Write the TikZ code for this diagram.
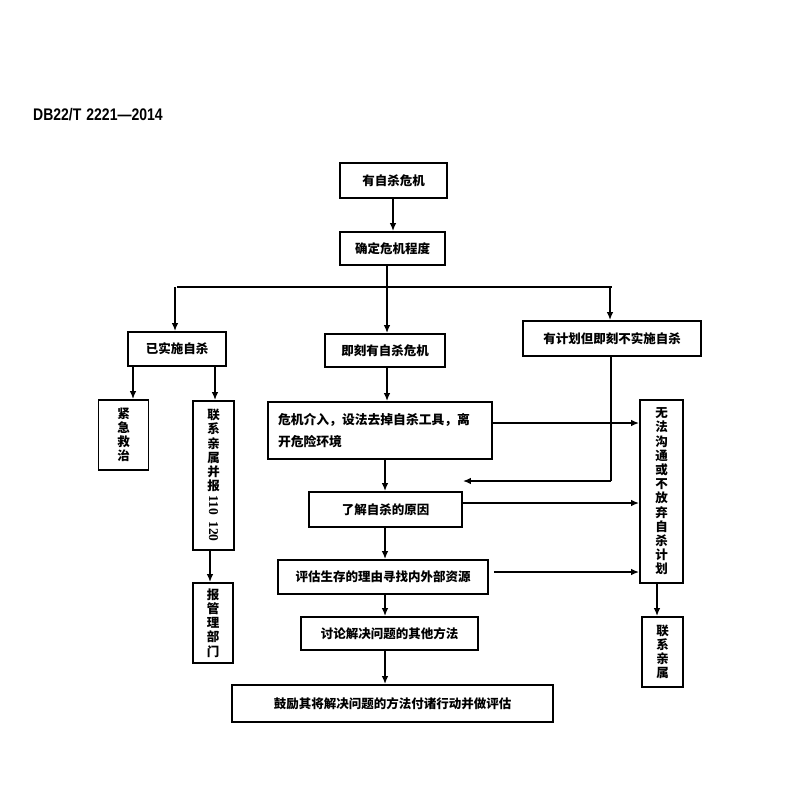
\documentclass[tikz,border=0pt]{standalone}
\usepackage{fontspec}
\usepackage{graphicx}
\newfontfamily\cjk{Noto Sans CJK SC}
\newfontfamily\hdrfont{Liberation Sans}
\newfontfamily\numfont{Liberation Serif}
\usetikzlibrary{arrows.meta,calc}
\begin{document}
\begin{tikzpicture}[x=1pt,y=-1pt,
  box/.style={draw,line width=1.7pt,inner sep=0pt,align=center,
    font=\cjk\bfseries\fontsize{12.5}{14.2}\selectfont},
  arr/.style={line width=1.7pt,-{Latex[length=8pt,width=6.5pt]}},
  ln/.style={line width=1.7pt}]
\useasboundingbox (0,0) rectangle (799,800);
\fill[white] (0,0) rectangle (799,800);
\node[anchor=west,inner sep=0pt,font=\hdrfont\bfseries\fontsize{14}{15}\selectfont] (hdr) at (33,115)
  {\scalebox{1}[1.2]{DB22/T\hspace{5pt}2221—2014}};

\node[box,minimum width=107,minimum height=35] (top) at (393.5,180.5) {有自杀危机};
\node[box,minimum width=105,minimum height=33] (deg) at (392.5,248.5) {确定危机程度};
\node[box,minimum width=98,minimum height=34] (yishi) at (177,349) {已实施自杀};
\node[box,minimum width=120,minimum height=33] (jike) at (385,350.5) {即刻有自杀危机};
\node[box,minimum width=178,minimum height=35] (youji) at (612,338.5) {有计划但即刻不实施自杀};
\node[box,minimum width=50,minimum height=70] (jinji) at (123.5,435) {紧\\急\\救\\治};
\node[box,minimum width=41,minimum height=149] (lianxi) at (213.5,475.5)
  {联\\系\\亲\\属\\并\\报\\[-9pt]\rotatebox{-90}{\numfont\bfseries\fontsize{13.5}{14}\selectfont 110\hspace{6pt}120}};
\node[box,minimum width=40,minimum height=80] (baoguan) at (213,623) {报\\管\\理\\部\\门};
\node[box,minimum width=224,minimum height=57,text width=204,align=left,
  font=\cjk\bfseries\fontsize{12.8}{22}\selectfont] (weiji) at (380,430.5)
  {危机介入，设法去掉自杀工具，离\\开危险环境};
\node[box,minimum width=153,minimum height=35] (liaojie) at (385.5,509.5) {了解自杀的原因};
\node[box,minimum width=210,minimum height=34] (pinggu) at (383,577) {评估生存的理由寻找内外部资源};
\node[box,minimum width=177,minimum height=33] (taolun) at (389.5,633.5) {讨论解决问题的其他方法};
\node[box,minimum width=321,minimum height=37] (guli) at (392.5,703.5) {鼓励其将解决问题的方法付诸行动并做评估};
\node[box,minimum width=43,minimum height=183] (wufa) at (661.5,491.5)
  {无\\法\\沟\\通\\或\\不\\放\\弃\\自\\杀\\计\\划};
\node[box,minimum width=41,minimum height=70] (lianxi2) at (662.5,652) {联\\系\\亲\\属};

\coordinate (split) at (387,287);
\coordinate (merge) at (611,481);

\draw[arr] ([xshift=-0.5pt]top.south) -- ([xshift=-0.5pt]top.south |- deg.north);
\draw[ln] (deg.south -| split) -- (split);
\draw[ln] (yishi.north |- split) -- (youji.north |- split);
\draw[arr] (split) -- (split |- jike.north);
\draw[arr] ([xshift=-2pt]yishi.north |- split) -- ([xshift=-2pt]yishi.north);
\draw[arr] ([xshift=-2pt]youji.north |- split) -- ([xshift=-2pt]youji.north);

\draw[arr] ([xshift=9.5pt]jinji.north |- yishi.south) -- ([xshift=9.5pt]jinji.north);
\draw[arr] ([xshift=1.5pt]lianxi.north |- yishi.south) -- ([xshift=1.5pt]lianxi.north);
\draw[arr] ([xshift=-3.5pt]lianxi.south) -- ([xshift=-3.5pt]lianxi.south |- baoguan.north);

\draw[arr] ([xshift=2pt]jike.south) -- ([xshift=2pt]jike.south |- weiji.north);
\draw[arr] ([xshift=5pt]weiji.south) -- ([xshift=5pt]weiji.south |- liaojie.north);
\draw[ln] ([xshift=-1pt]youji.south) -- ([xshift=-1pt]youji.south |- merge);
\draw[arr] (merge) -- (merge -| liaojie.east);

\draw[arr] ([yshift=7.5pt]weiji.east) -- ([yshift=7.5pt]weiji.east -| wufa.west);
\draw[arr] ([yshift=6.5pt]liaojie.east) -- ([yshift=6.5pt]liaojie.east -| wufa.west);
\draw[arr] ([yshift=5pt,xshift=5pt]pinggu.east) -- ([yshift=5pt]pinggu.east -| wufa.west);
\draw[arr] ([xshift=-4.5pt]wufa.south) -- ([xshift=-4.5pt]wufa.south |- lianxi2.north);

\draw[arr] ([xshift=-0.5pt]liaojie.south) -- ([xshift=-0.5pt]liaojie.south |- pinggu.north);
\draw[arr] ([xshift=-0.5pt]liaojie.south |- pinggu.south) -- ([xshift=-0.5pt]liaojie.south |- taolun.north);
\draw[arr] ([xshift=-0.5pt]liaojie.south |- taolun.south) -- ([xshift=-0.5pt]liaojie.south |- guli.north);
\end{tikzpicture}
\end{document}
